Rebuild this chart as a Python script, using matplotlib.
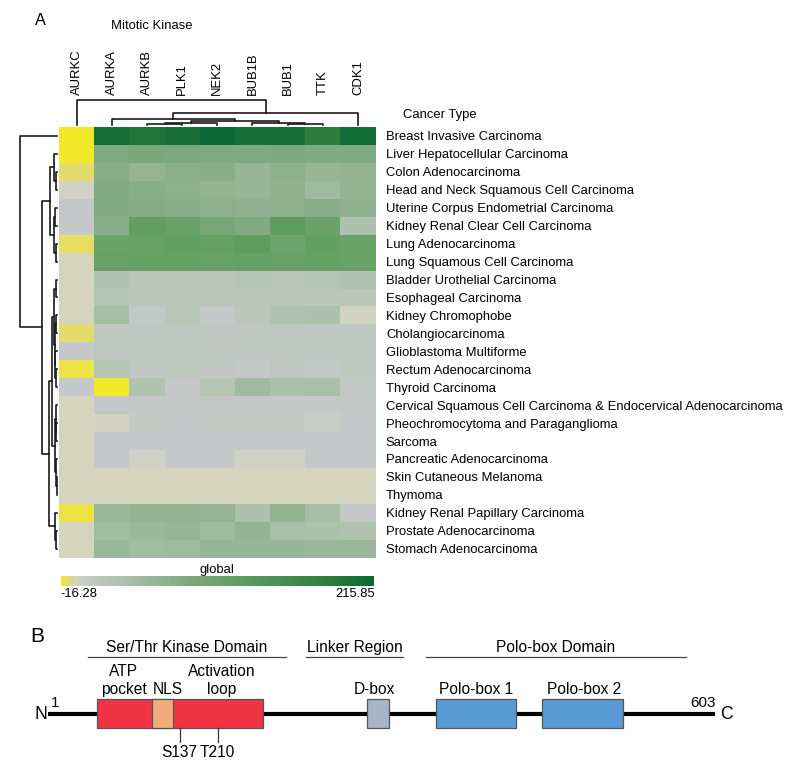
import numpy as np
import matplotlib
matplotlib.use("Agg")
import matplotlib.pyplot as plt
from matplotlib.colors import LinearSegmentedColormap, Normalize
from matplotlib.colorbar import ColorbarBase
from matplotlib.patches import Rectangle
from matplotlib.transforms import blended_transform_factory

plt.rcParams['font.family'] = ['Liberation Sans', 'DejaVu Sans']

W, H = 799, 766

# ---- panel A data ----
kinases = ["AURKC", "AURKA", "AURKB", "PLK1", "NEK2", "BUB1B", "BUB1", "TTK", "CDK1"]
cancers = [
    "Breast Invasive Carcinoma",
    "Liver Hepatocellular Carcinoma",
    "Colon Adenocarcinoma",
    "Head and Neck Squamous Cell Carcinoma",
    "Uterine Corpus Endometrial Carcinoma",
    "Kidney Renal Clear Cell Carcinoma",
    "Lung Adenocarcinoma",
    "Lung Squamous Cell Carcinoma",
    "Bladder Urothelial Carcinoma",
    "Esophageal Carcinoma",
    "Kidney Chromophobe",
    "Cholangiocarcinoma",
    "Glioblastoma Multiforme",
    "Rectum Adenocarcinoma",
    "Thyroid Carcinoma",
    "Cervical Squamous Cell Carcinoma & Endocervical Adenocarcinoma",
    "Pheochromocytoma and Paraganglioma",
    "Sarcoma",
    "Pancreatic Adenocarcinoma",
    "Skin Cutaneous Melanoma",
    "Thymoma",
    "Kidney Renal Papillary Carcinoma",
    "Prostate Adenocarcinoma",
    "Stomach Adenocarcinoma",
]

# one row per cancer type, columns in the order of `kinases`
expr = np.array([
    [-16.28, 205, 195, 203, 215.85, 204, 206, 182, 210],
    [-16.28, 75, 82, 78, 75, 76, 78, 74, 76],
    [-11, 68, 55, 65, 67, 52, 64, 54, 58],
    [-3, 72, 68, 64, 56, 52, 60, 44, 56],
    [4, 72, 70, 68, 64, 60, 64, 68, 60],
    [4, 68, 115, 105, 88, 72, 118, 102, 30],
    [-12, 102, 105, 112, 110, 118, 98, 112, 102],
    [-5, 106, 108, 108, 107, 108, 106, 108, 104],
    [-5, 25, 16, 16, 17, 20, 16, 20, 25],
    [-5, 20, 14, 14, 16, 16, 16, 12, 12],
    [-5, 38, 6, 16, 4, 12, 25, 30, -4],
    [-11, 10, 9, 9, 8, 8, 9, 9, 9],
    [4, 10, 9, 9, 9, 8, 8, 8, 8],
    [-14, 20, 10, 11, 8, 4, 8, 6, 10],
    [4, -16, 25, 4, 20, 44, 32, 34, 6],
    [-5, 4, 5, 5, 5, 5, 5, 4, 5],
    [-5, -4, 3, 4, 3, 3, 3, 1, 4],
    [-5, 4, 4, 4, 4, 4, 4, 4, 4],
    [-5, 4, -3, 4, 4, -3, -3, 4, 4],
    [-5, -5, -5, -5, -5, -5, -5, -5, -5],
    [-5, -5, -5, -5, -5, -5, -5, -5, -5],
    [-14, 50, 56, 56, 52, 30, 56, 38, 4],
    [-5, 40, 48, 52, 44, 56, 34, 30, 26],
    [-5, 50, 40, 44, 52, 52, 52, 48, 48],
])
vmin, vmax = -16.28, 215.85

# clustering trees: (left, right, merge height), leaves are indices in display order
col_tree = (0, ((1, ((((2, 3, 0.04), 4, 0.08), (5, (6, 7, 0.05), 0.08), 0.16)), 0.24), 8, 0.46), 1.0)
row_tree = (0, (
    ((1, (2, 3, 0.04), 0.07), ((4, 5, 0.05), (6, 7, 0.03), 0.09), 0.19),
    ((((8, 9, 0.02), ((10, 11, 0.03), (12, (13, 14, 0.04), 0.05), 0.06), 0.08),
      ((15, (16, 17, 0.02), 0.03), (18, (19, 20, 0.01), 0.03), 0.05), 0.13),
     (21, (22, 23, 0.03), 0.06), 0.22),
    0.41), 1.0)

# ---- panel B data (schematic positions along the drawn PLK1 bar) ----
domain_names = ["Ser/Thr Kinase Domain", "Linker Region", "Polo-box Domain"]
domain_spans = [(88, 286), (306, 403), (426, 686)]
box_labels = ["ATP\npocket", "NLS", "Activation\nloop", "D-box", "Polo-box 1", "Polo-box 2"]
box_label_x = [124, 168, 222, 374, 476, 584]
boxes = [(97, 263, "#ee3445"), (152, 173, "#f2ab7c"), (367, 389, "#a9b3c6"),
         (436, 516, "#5b9bd5"), (542, 623, "#5b9bd5")]
sites = ["S137", "T210"]
site_x = [179.5, 217.5]
protein_start, protein_end = 48, 715


def box(l, t, r, b):
    return [l / W, 1 - b / H, (r - l) / W, (b - t) / H]


def dendro(node, segs):
    if isinstance(node, int):
        return node + 0.5, 0.0
    left, right, h = node
    pl, hl = dendro(left, segs)
    pr, hr = dendro(right, segs)
    segs.append(([pl, pl, pr, pr], [hl, h, h, hr]))
    return (pl + pr) / 2, h


cmap = LinearSegmentedColormap.from_list("global", [
    (0.0, "#f2e82a"), (0.0227, "#e0da78"), (0.0487, "#d4d4c4"), (0.0874, "#c4c8c8"),
    (0.1348, "#b8c6b8"), (0.1994, "#acc2ac"), (0.3071, "#94b494"), (0.3932, "#7faa80"),
    (0.544, "#64a064"), (0.8456, "#2e7f3e"), (1.0, "#0c6833")])
norm = Normalize(vmin, vmax)

fig = plt.figure(figsize=(W / 100, H / 100), dpi=100)

# heatmap
ax = fig.add_axes(box(59, 127, 375.5, 557.7))
ax.pcolormesh(np.arange(10), np.arange(25), expr, cmap=cmap, norm=norm, antialiased=False)
ax.set_xlim(0, 9)
ax.set_ylim(24, 0)
ax.set_xticks([])
ax.yaxis.tick_right()
ax.set_yticks(np.arange(len(cancers)) + 0.5)
ax.set_yticklabels(cancers, fontsize=9.4)
ax.tick_params(axis="y", length=0, pad=7.5)
for s in ax.spines.values():
    s.set_visible(False)

trans = blended_transform_factory(ax.transData, fig.transFigure)
for j, k in enumerate(kinases):
    ax.text(j + 0.5, 1 - 95 / H, k, rotation=90, ha="center", va="bottom",
            fontsize=9.4, transform=trans)

# column dendrogram
axc = fig.add_axes(box(59, 90, 375.5, 127))
segs = []
dendro(col_tree, segs)
for xs, ys in segs:
    axc.plot(xs, ys, color="#1a1a1a", lw=1.2)
axc.set_xlim(0, 9)
axc.set_ylim(-2 / 25.3, 35 / 25.3)
axc.axis("off")

# row dendrogram
axr = fig.add_axes(box(15, 127, 59, 557.7))
segs = []
dendro(row_tree, segs)
for ys, xs in segs:
    axr.plot(xs, ys, color="#1a1a1a", lw=1.2)
axr.set_ylim(24, 0)
axr.set_xlim(1 + 5 / 37, -2 / 37)
axr.axis("off")

fig.text(40 / W, 1 - 25 / H, "A", fontsize=11.7, ha="center", va="baseline")
fig.text(151.7 / W, 1 - 29.3 / H, "Mitotic Kinase", fontsize=9.4, ha="center", va="baseline")
fig.text(440 / W, 1 - 115 / H, "Cancer Type", fontsize=9.4, ha="center", va="center")

# colour bar
axcb = fig.add_axes(box(60.7, 576, 374, 585.7))
cb = ColorbarBase(axcb, cmap=cmap, norm=norm, orientation="horizontal")
cb.set_ticks([])
cb.outline.set_visible(False)
fig.text(217 / W, 1 - 575.5 / H, "global", fontsize=9.4, ha="center", va="bottom")
fig.text(60 / W, 1 - 594 / H, f"{vmin:.2f}", fontsize=9.4, ha="left", va="center")
fig.text(374.5 / W, 1 - 594 / H, f"{vmax:.2f}", fontsize=9.4, ha="right", va="center")

# ---- panel B ----
axb = fig.add_axes([0, 0, 1, 170 / H])
axb.set_xlim(0, W)
axb.set_ylim(H, H - 170)
axb.axis("off")

axb.text(37, 641.7, "B", fontsize=15, ha="center", va="baseline")
for name, (a, b) in zip(domain_names, domain_spans):
    axb.plot([a, b], [657.3, 657.3], color="#444444", lw=0.9)
    axb.text((a + b) / 2, 652, name, fontsize=11.2, ha="center", va="baseline")

axb.plot([protein_start, protein_end], [714, 714], color="black", lw=3, solid_capstyle="butt", zorder=1)
for a, b, c in boxes:
    axb.add_patch(Rectangle((a, 699.3), b - a, 29, facecolor=c, edgecolor="#555555", lw=0.9, zorder=2))

for lab, x in zip(box_labels, box_label_x):
    lines = lab.split("\n")
    for i, line in enumerate(reversed(lines)):
        axb.text(x, 694 - 18 * i, line, fontsize=11.2, ha="center", va="baseline")

for lab, x in zip(sites, site_x):
    axb.plot([x, x], [728.3, 741.7], color="#333333", lw=0.9)
    axb.text(x, 757, lab, fontsize=11.2, ha="center", va="baseline")

axb.text(41, 719, "N", fontsize=12.7, ha="center", va="baseline")
axb.text(55, 707, "1", fontsize=11, ha="center", va="baseline")
axb.text(703, 707, "603", fontsize=11, ha="center", va="baseline")
axb.text(726, 719, "C", fontsize=12.7, ha="center", va="baseline")

fig.savefig("out.png", dpi=100)
